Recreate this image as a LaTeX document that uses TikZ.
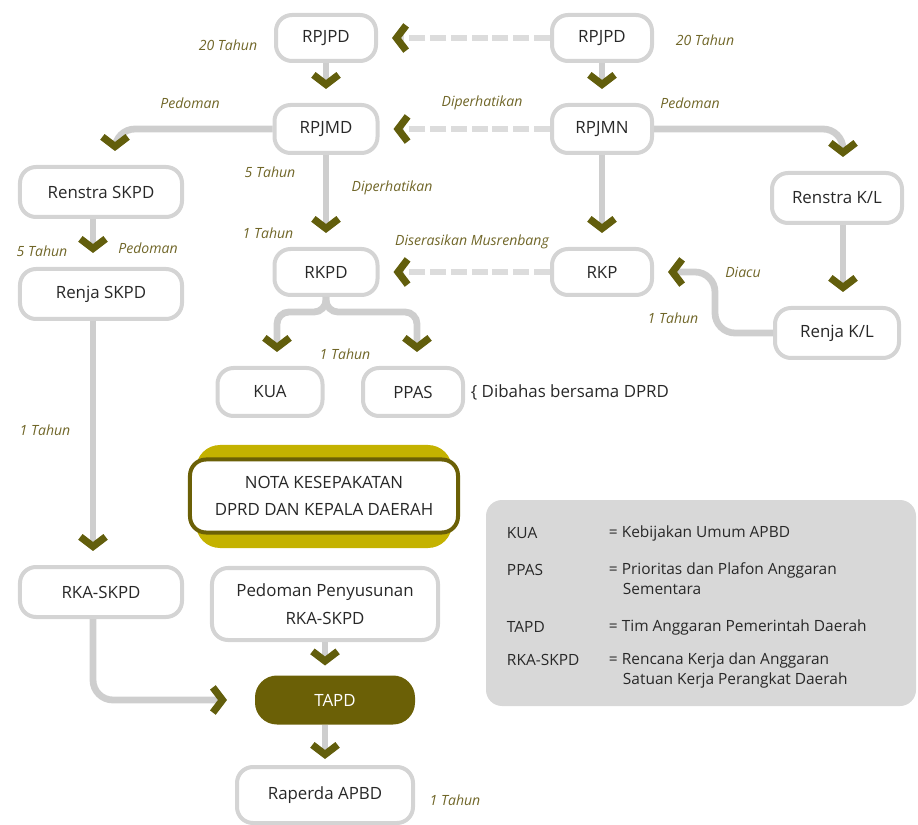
\documentclass[tikz,border=0pt]{standalone}
\usepackage{fontspec}
\setmainfont{Open Sans}
\usetikzlibrary{arrows.meta}

\definecolor{boxgray}{RGB}{212,212,212}
\definecolor{linegray}{RGB}{206,206,206}
\definecolor{dashgray}{RGB}{220,220,220}
\definecolor{chevolive}{RGB}{98,94,12}
\definecolor{labelolive}{RGB}{112,102,40}
\definecolor{tapdolive}{RGB}{107,96,6}
\definecolor{notagold}{RGB}{196,178,0}
\definecolor{legendgray}{RGB}{216,216,216}
\definecolor{textdark}{RGB}{40,40,40}

\tikzset{
  box/.style={draw=boxgray, line width=1mm, rounded corners=4mm, fill=white,
    text=textdark, font=\fontsize{12}{14}\selectfont, inner sep=0pt, align=center},
  conn/.style={draw=linegray, line width=1.7mm, rounded corners=5mm,
    -{Straight Barb[length=2.4mm, width=6.3mm, line width=1.8mm, color=chevolive]},
    shorten >=3.5mm},
  dashconn/.style={conn, draw=dashgray, rounded corners=0pt, dash pattern=on 4mm off 1.2mm},
  lbl/.style={text=labelolive, font=\itshape\fontsize{10}{12}\selectfont},
  legtext/.style={anchor=west, text=textdark, font=\fontsize{11}{13}\selectfont}
}

\begin{document}
\begin{tikzpicture}[x=0.25mm, y=-0.25mm]
\useasboundingbox (0,0) rectangle (918,825);
% Draw long and mid term plans
\node[box, minimum width=25mm, minimum height=11.5mm] (rpjpd) at (326,38) {RPJPD};
\node[box, minimum width=25mm, minimum height=11.5mm] (rpjpn) at (602,38) {RPJPD};
\node[box, minimum width=25.75mm, minimum height=12mm] (rpjmd) at (326,129) {RPJMD};
\node[box, minimum width=25mm, minimum height=12mm] (rpjmn) at (602,129) {RPJMN};
\node[box, minimum width=40.5mm, minimum height=12.5mm] (renstraskpd) at (101,192) {Renstra SKPD};
\node[box, minimum width=32.5mm, minimum height=12.5mm] (renstrakl) at (837,198) {Renstra K/L};
% Draw yearly plans
\node[box, minimum width=25.75mm, minimum height=11.5mm] (rkpd) at (326,272) {RKPD};
\node[box, minimum width=25mm, minimum height=11.5mm] (rkp) at (602,272) {RKP};
\node[box, minimum width=40.5mm, minimum height=12.5mm] (renjaskpd) at (101,294) {Renja SKPD};
\node[box, minimum width=31mm, minimum height=12.5mm] (renjakl) at (837,333) {Renja K/L};
\node[box, minimum width=26.25mm, minimum height=12mm] (kua) at (270,392) {KUA};
\node[box, minimum width=25mm, minimum height=12mm] (ppas) at (413,392) {PPAS};
\node[text=textdark, anchor=west, font=\fontsize{12}{14}\selectfont] (dibahas) at (466,392) {\{ Dibahas bersama DPRD};
% Draw budget part
\fill[notagold, rounded corners=6mm] (196,445) rectangle (452,548);
\node[box, draw=tapdolive, minimum width=67mm, minimum height=18.25mm] (nota) at (324,496)
  {NOTA KESEPAKATAN\\[2mm] DPRD DAN KEPALA DAERAH};
\node[box, minimum width=40.5mm, minimum height=12.5mm] (rkaskpd) at (101,592) {RKA-SKPD};
\node[box, minimum width=56.5mm, minimum height=18mm] (pedoman) at (325,604)
  {Pedoman Penyusunan\\[2mm] RKA-SKPD};
\node[box, draw=tapdolive, fill=tapdolive, text=white, rounded corners=5mm,
  minimum width=39mm, minimum height=11.25mm] (tapd) at (335,700) {TAPD};
\node[box, minimum width=44mm, minimum height=14mm] (raperda) at (325,795) {Raperda APBD};
% Dashed links
\draw[dashconn] (rpjpn.west) -- (rpjpd.east);
\draw[dashconn] (rpjmn.west) -- (rpjmd.east);
\draw[dashconn] (rkp.west) -- (rkpd.east);
% Solid links
\draw[conn] (rpjpd.south) -- (rpjmd.north);
\draw[conn] (rpjpn.south) -- (rpjmn.north);
\draw[conn] (rpjmd.south) -- (rkpd.north);
\draw[conn] (rpjmn.south) -- (rkp.north);
\draw[conn] (rpjmd.west) -| ([xshift=3.5mm]renstraskpd.north);
\draw[conn] (rpjmn.east) -| ([xshift=1.5mm]renstrakl.north);
\draw[conn] ([xshift=1.5mm]renstrakl.south) -- ([xshift=1.5mm]renjakl.north);
\draw[conn] ([xshift=-2mm]renstraskpd.south) -- ([xshift=-2mm]renjaskpd.north);
\draw[conn] ([xshift=-2mm]renjaskpd.south) -- ([xshift=-2mm]rkaskpd.north);
\draw[conn] (renjakl.west) -| (715,272) -- (rkp.east);
\coordinate (split) at (326,312);
\draw[conn, rounded corners=3mm] (rkpd.south) -- (split) -| ([xshift=1.75mm]kua.north);
\draw[conn, rounded corners=3mm] (rkpd.south) -- (split) -| ([xshift=1mm]ppas.north);
\draw[conn, shorten >=7mm] ([xshift=-2mm]rkaskpd.south) |- (tapd.west);
\draw[conn, shorten >=2.5mm] (pedoman.south) -- (pedoman.south |- tapd.north);
\draw[conn, shorten >=1.5mm] (raperda.north |- tapd.south) -- (raperda.north);
% Labels
\node[lbl] (l20a) at (228,45) {20 Tahun};
\node[lbl] (l20b) at (705,40) {20 Tahun};
\node[lbl] (lpedA) at (190,103) {Pedoman};
\node[lbl] (lperA) at (482,103) {Diperhatikan};
\node[lbl] (lpedB) at (690,103) {Pedoman};
\node[lbl] (l5a) at (270,172) {5 Tahun};
\node[lbl] (lperB) at (392,188) {Diperhatikan};
\node[lbl] (l1a) at (268,233) {1 Tahun};
\node[lbl] (lseras) at (472,242) {Diserasikan Musrenbang};
\node[lbl] (l5b) at (42,251) {5 Tahun};
\node[lbl] (lpedC) at (148,248) {Pedoman};
\node[lbl] (lacu) at (743,272) {Diacu};
\node[lbl] (l1b) at (673,318) {1 Tahun};
\node[lbl] (l1c) at (345,354) {1 Tahun};
\node[lbl] (l1d) at (45,430) {1 Tahun};
\node[lbl] (l1e) at (455,800) {1 Tahun};
% Legend
\fill[legendgray, rounded corners=4mm] (486,500) rectangle (916,706);
\node[legtext] (kkua) at (502,533) {KUA};
\node[legtext] (vkua) at (604,533) {= Kebijakan Umum APBD};
\node[legtext] (kppas) at (502,570) {PPAS};
\node[legtext] (vppas) at (604,570) {= Prioritas dan Plafon Anggaran};
\node[legtext] (vppasb) at (618,589) {Sementara};
\node[legtext] (ktapd) at (502,627) {TAPD};
\node[legtext] (vtapd) at (604,627) {= Tim Anggaran Pemerintah Daerah};
\node[legtext] (krka) at (502,660) {RKA-SKPD};
\node[legtext] (vrka) at (604,660) {= Rencana Kerja dan Anggaran};
\node[legtext] (vrkab) at (618,680) {Satuan Kerja Perangkat Daerah};
\end{tikzpicture}
\end{document}
